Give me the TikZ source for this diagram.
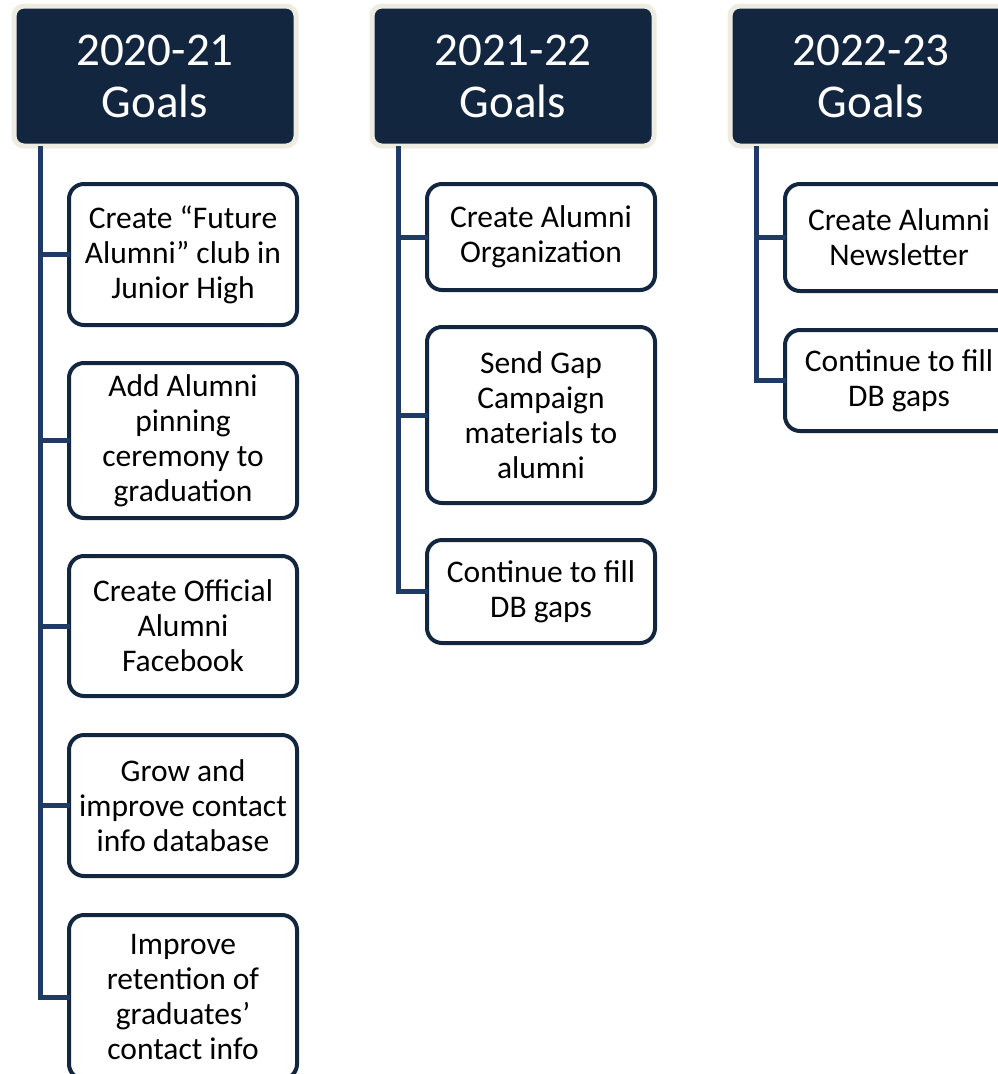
\documentclass[tikz,border=0pt]{standalone}
\usepackage{fontspec}
\setmainfont{Carlito}
\definecolor{navy}{HTML}{12263F}
\definecolor{linenavy}{HTML}{1F3A64}
\definecolor{beige}{HTML}{EEECE1}
\tikzset{
  header/.style={draw=beige, line width=5pt, fill=navy, rounded corners=10pt,
    minimum width=282pt, minimum height=140pt, text=white, align=center,
    font=\fontsize{47}{52}\selectfont, inner sep=0pt},
  goal/.style={draw=navy, line width=4pt, fill=white, rounded corners=15pt,
    minimum width=228pt, text=black, align=center,
    font=\fontsize{31.5}{35}\selectfont, inner sep=0pt},
  conn/.style={draw=linenavy, line width=5pt, line cap=rect}
}
\begin{document}
\begin{tikzpicture}[x=1pt,y=-1pt]
\useasboundingbox (0,0) rectangle (998,1074);
% headers
\node[header] (h1) at (155,76) {2020-21\\Goals};
\node[header] (h2) at (513,76) {2021-22\\Goals};
\node[header] (h3) at (871,76) {2022-23\\Goals};
% column 1
\node[goal, minimum height=141pt] (a1) at (183,254.5) {Create “Future\\Alumni” club in\\Junior High};
\node[goal, minimum height=155pt] (a2) at (183,440.5) {Add Alumni\\pinning\\ceremony to\\graduation};
\node[goal, minimum height=140pt] (a3) at (183,626) {Create Official\\Alumni\\Facebook};
\node[goal, minimum height=141pt] (a4) at (183,805.5) {Grow and\\improve contact\\info database};
\node[goal, minimum height=164pt] (a5) at (183,997) {Improve\\retention of\\graduates’\\contact info};
% column 2
\node[goal, minimum height=106pt] (b1) at (541,237) {Create Alumni\\Organization};
\node[goal, minimum height=176pt] (b2) at (541,415) {Send Gap\\Campaign\\materials to\\alumni};
\node[goal, minimum height=103pt] (b3) at (541,591.5) {Continue to fill\\DB gaps};
% column 3
\node[goal, minimum height=107pt] (c1) at (899,237.5) {Create Alumni\\Newsletter};
\node[goal, minimum height=101pt] (c2) at (899,380.5) {Continue to fill\\DB gaps};
% connectors
\coordinate (t1) at (40,148);
\coordinate (t2) at (398,148);
\coordinate (t3) at (756,148);
\draw[conn] (t1) |- (a1.west);
\draw[conn] (t1) |- (a2.west);
\draw[conn] (t1) |- (a3.west);
\draw[conn] (t1) |- (a4.west);
\draw[conn] (t1) |- (a5.west);
\draw[conn] (t2) |- (b1.west);
\draw[conn] (t2) |- (b2.west);
\draw[conn] (t2) |- (b3.west);
\draw[conn] (t3) |- (c1.west);
\draw[conn] (t3) |- (c2.west);
\end{tikzpicture}
\end{document}
